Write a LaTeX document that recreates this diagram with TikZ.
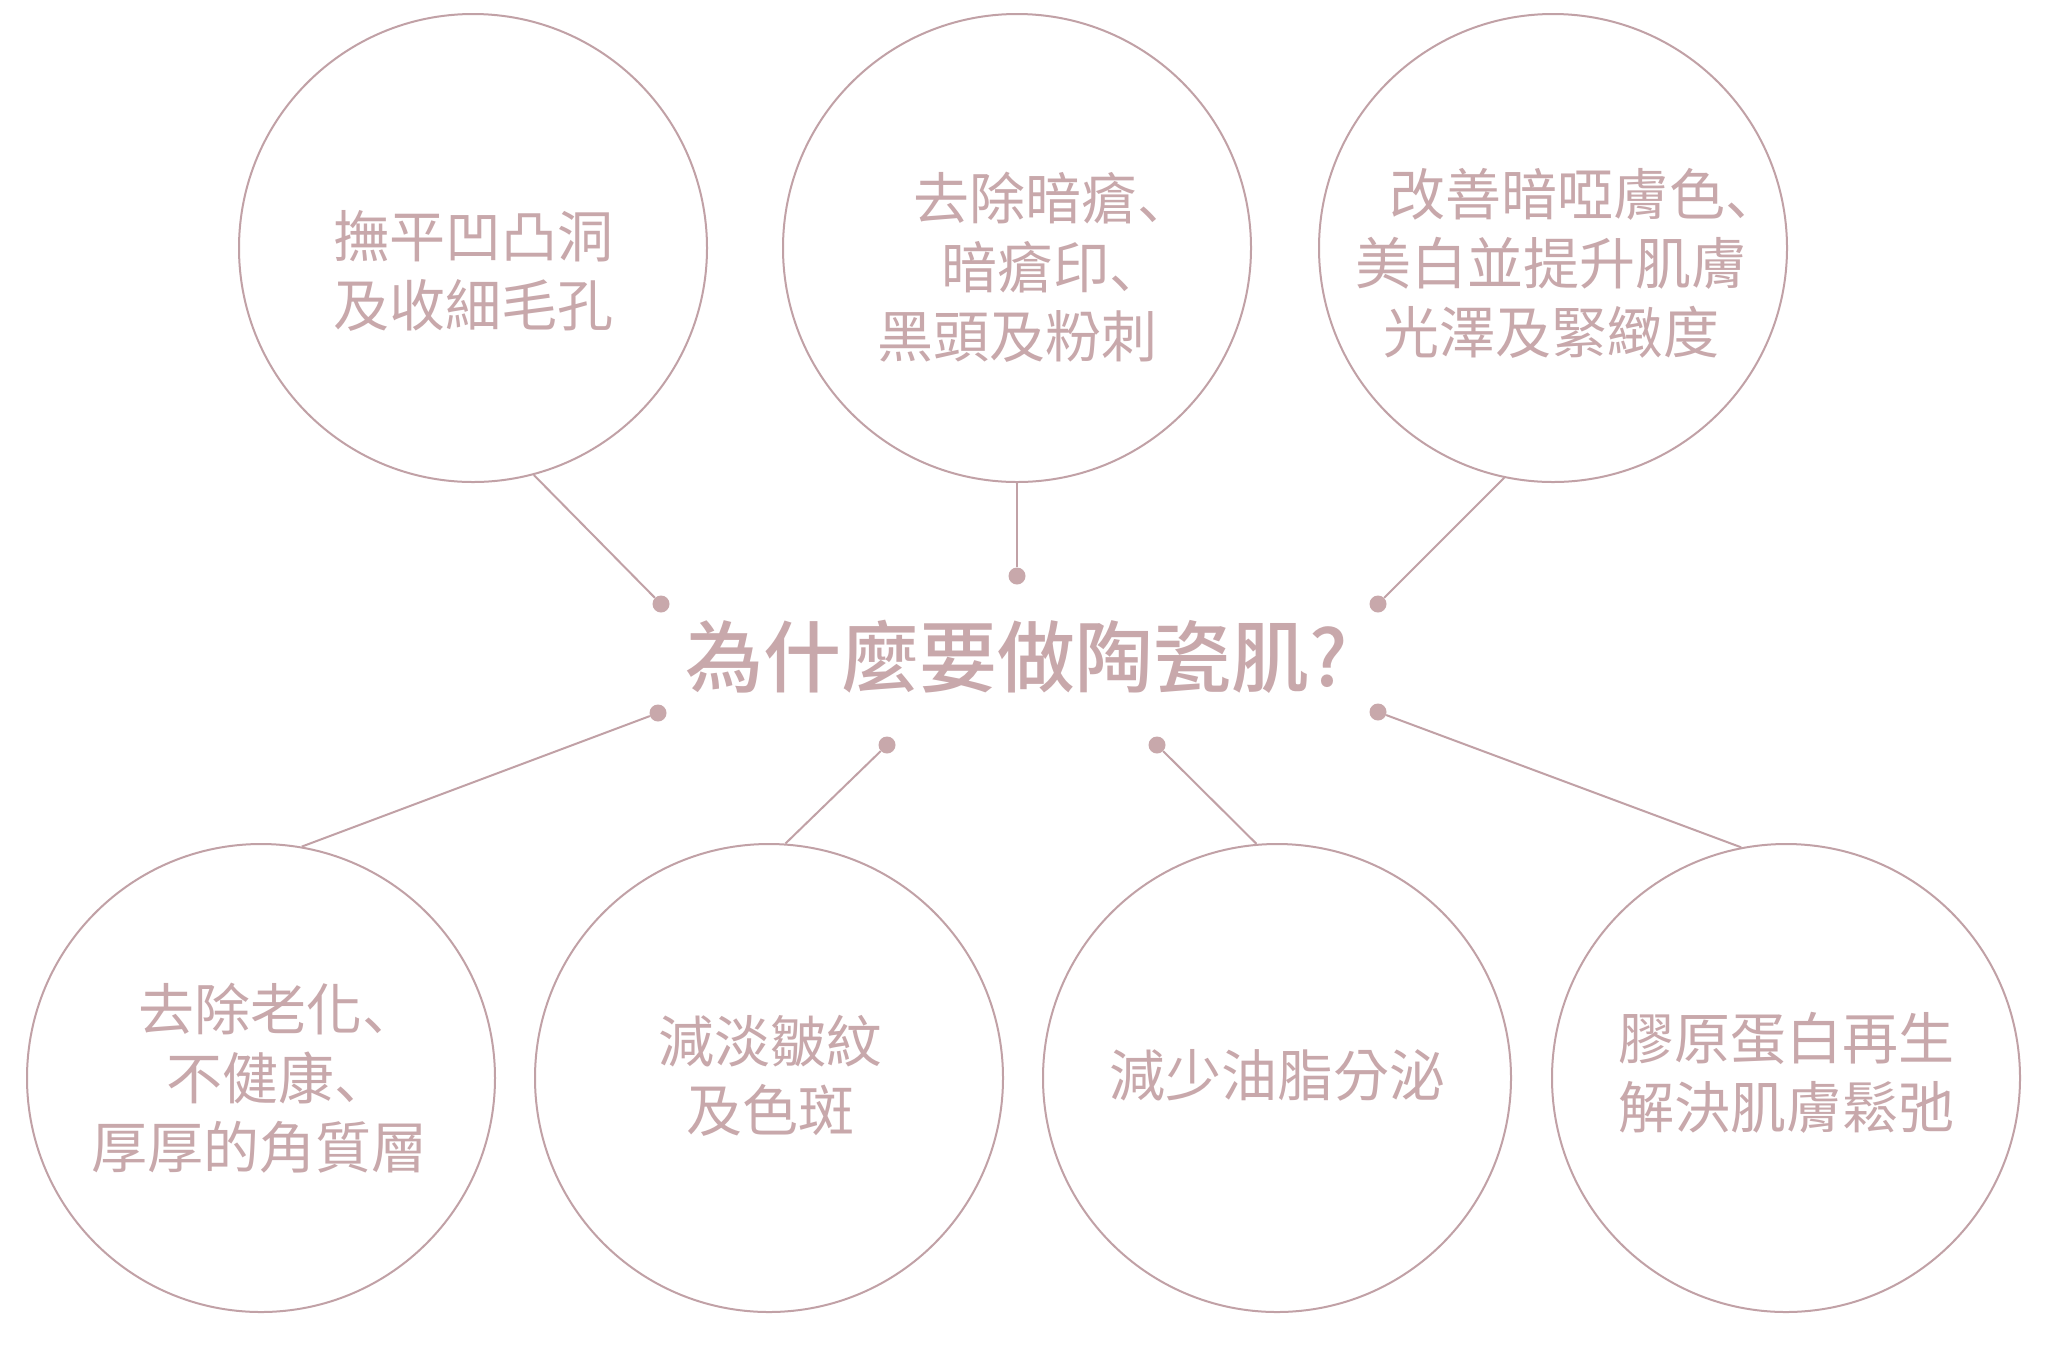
\documentclass[tikz,border=0pt]{standalone}
\usepackage{fontspec}
\newfontfamily\cjk{Noto Sans CJK TC}
\newfontfamily\cjkmid{Noto Sans CJK TC Medium}
\newfontfamily\cjkjp{Noto Sans CJK JP}
\newcommand{\dun}{{\cjkjp 、}}
\definecolor{rose}{RGB}{200,168,171}
\definecolor{roseline}{RGB}{193,161,166}
\tikzset{
  bubble/.style={circle, draw=roseline, line width=2pt, minimum size=468pt, inner sep=0pt},
  blurb/.style={text=rose, align=center, inner sep=0pt, font=\cjk\fontsize{56}{69}\selectfont},
  knob/.style={circle, fill=rose, inner sep=0pt, minimum size=17pt},
  link/.style={roseline, line width=2pt}
}

\begin{document}
\begin{tikzpicture}[x=1pt, y=-1pt]
  \fill[white] (0,0) rectangle (2048,1353);
  \useasboundingbox (0,0) rectangle (2048,1353);
  % circles
  \foreach \n/\x/\y in {tl/473/248, tm/1017/248, tr/1553/248,
                        b1/261/1078, b2/769/1078, b3/1277/1078, b4/1786/1078}
    \node[bubble] (\n) at (\x,\y) {};
  % dots round the question
  \foreach \n/\x/\y in {d1/661/604, d2/1017/576, d3/1378/604,
                        d4/658/713, d5/887/745, d6/1157/745, d7/1378/712}
    \node[knob] (\n) at (\x,\y) {};
  \foreach \d/\c/\a in {d1/tl/-75, d2/tm/-90, d3/tr/-102,
                        d4/b1/80, d5/b2/86, d6/b3/95, d7/b4/101}
    \draw[link] (\d) -- (\c.\a);

  \node[text=rose, inner sep=0pt, font=\cjkmid\fontsize{78}{78}\selectfont] (why) at (1017,657) {為什麼要做陶瓷肌?};

  \node[blurb] (tltext) at (473,271) {撫平凹凸洞\\及收細毛孔};
  \node[blurb] (tmtext) at (1017,267) {\hspace*{72pt}去除暗瘡\dun\\\hspace*{72pt}暗瘡印\dun\\黑頭及粉刺};
  \node[blurb] (trtext) at (1551,263) {\hspace*{68pt}改善暗啞膚色\dun\\美白並提升肌膚\\光澤及緊緻度};
  \node[blurb] (b1text) at (259,1078) {\hspace*{38pt}去除老化\dun\\\hspace*{38pt}不健康\dun\\厚厚的角質層};
  \node[blurb] (b2text) at (770,1076) {減淡皺紋\\及色斑};
  \node[blurb] (b3text) at (1277,1075) {減少油脂分泌};
  \node[blurb] (b4text) at (1786,1073) {膠原蛋白再生\\解決肌膚鬆弛};
\end{tikzpicture}
\end{document}
